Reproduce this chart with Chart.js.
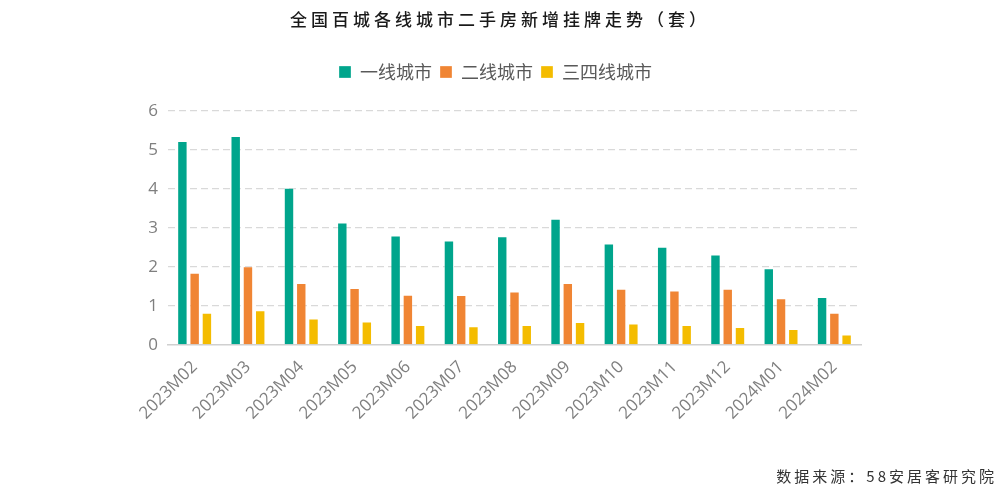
<!DOCTYPE html>
<html>
<head>
<meta charset="utf-8">
<script src="https://cdn.jsdelivr.net/npm/chart.js@4"></script>
<style>
  html, body { margin: 0; padding: 0; background: #fff; }
  #wrap { position: relative; width: 1000px; height: 492px; }
  #title {
    position: absolute; left: 0; top: 6px; width: 1000px; text-align: center;
    font-family: "Noto Sans CJK SC", sans-serif; font-size: 17px; font-weight: 500;
    letter-spacing: 4px; color: #1a1a1a;
  }
  #source {
    position: absolute; right: 3px; top: 465px;
    font-family: "Noto Sans CJK SC", sans-serif; font-size: 15px;
    letter-spacing: 3px; color: #333;
  }
</style>
</head>
<body>
<div id="wrap">
  <canvas id="graph" width="1000" height="492"></canvas>
  <div id="title">全国百城各线城市二手房新增挂牌走势（套）</div>
  <div id="source">数据来源：58安居客研究院</div>
</div>
<script>
// 月份
const months = ['2023M02', '2023M03', '2023M04', '2023M05', '2023M06', '2023M07', '2023M08',
  '2023M09', '2023M10', '2023M11', '2023M12', '2024M01', '2024M02']
// 各线城市
const tier1 = [5.23, 5.36, 4.03, 3.14, 2.81, 2.68, 2.79, 3.24, 2.60, 2.52, 2.32, 1.97, 1.23]
const tier2 = [1.85, 2.02, 1.59, 1.46, 1.29, 1.28, 1.37, 1.59, 1.44, 1.40, 1.44, 1.20, 0.83]
const tier34 = [0.83, 0.89, 0.68, 0.60, 0.51, 0.48, 0.51, 0.59, 0.55, 0.51, 0.46, 0.41, 0.27]
const yTicks = [0, 1, 2, 3, 4, 5, 6]

// 凡例の位置調整（高さを足して、横幅はページ全体で中央寄せ）
const legendBox = {
  id: 'legendBox',
  afterInit(chart) {
    const lg = chart.legend
    const fit = lg.fit
    lg.fit = function() { fit.call(this); if (this.height) this.height += 20 }
  },
  afterLayout(chart) {
    const lg = chart.legend
    lg.left = 0
    lg.right = 991
    lg.width = 991
  },
}

document.addEventListener("DOMContentLoaded", function() {
  let context = document.querySelector("#graph").getContext('2d')
  new Chart(context, {
    type: 'bar',
    data: {
      labels: months,
      datasets: [
        { label: '一线城市', data: tier1, backgroundColor: '#00A58C' },
        { label: '二线城市', data: tier2, backgroundColor: '#F08534' },
        { label: '三四线城市', data: tier34, backgroundColor: '#F4BC00' },
      ].map(d => Object.assign(d, {
        borderColor: 'rgba(255,255,255,0.3)',
        borderWidth: 1,
        categoryPercentage: 0.69,
        barPercentage: 0.85,
      })),
    },
    plugins: [legendBox],
    options: {
      responsive: false,
      animation: false,
      layout: { padding: { top: 55, right: 139, bottom: 0, left: 0 } },
      plugins: {
        // 凡例
        legend: {
          position: 'top',
          labels: {
            boxWidth: 12,
            boxHeight: 12,
            padding: 8,
            color: '#595959',
            font: { family: '"Noto Sans CJK SC", sans-serif', size: 18 },
          },
        },
        tooltip: { enabled: false },
      },
      scales: {
        y: {
          min: 0,
          max: 6,
          afterFit: s => { s.width = 168 },
          afterBuildTicks: s => { s.ticks = yTicks.map(v => ({ value: v })) },
          ticks: {
            color: '#7f7f7f',
            padding: 10,
            font: { family: '"Open Sans", sans-serif', size: 17 },
          },
          border: { display: false, dash: [7, 4] },
          grid: {
            color: ctx => ctx.tick && ctx.tick.value === 0 ? 'rgba(0,0,0,0)' : '#d9d9d9',
            lineWidth: 1.3,
            drawTicks: false,
          },
        },
        x: {
          afterFit: s => { s.height = 147 },
          ticks: {
            color: '#7f7f7f',
            maxRotation: 45,
            minRotation: 45,
            padding: 4,
            font: { family: '"Open Sans", sans-serif', size: 17 },
          },
          grid: { display: false },
          border: { display: true, color: '#d0d0d0', width: 1.5 },
        },
      },
    },
  })
})
</script>
</body>
</html>
